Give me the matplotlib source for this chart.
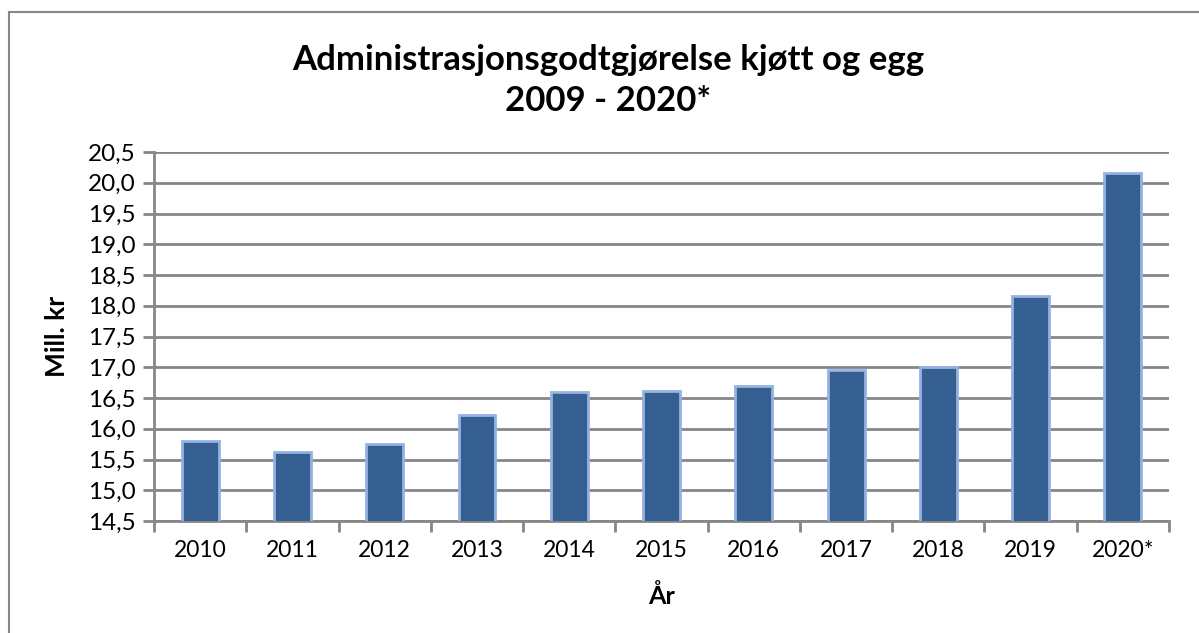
import matplotlib
matplotlib.use("Agg")
import matplotlib.pyplot as plt
from matplotlib.patches import Rectangle
from matplotlib.ticker import MultipleLocator, FuncFormatter

years = ["2010", "2011", "2012", "2013", "2014", "2015",
         "2016", "2017", "2018", "2019", "2020*"]
mill_kr = [15.80, 15.63, 15.76, 16.22, 16.59, 16.61,
           16.69, 16.95, 17.00, 18.16, 20.16]

BAR_COLOR = "#365f91"
EDGE_COLOR = "#95b3e0"
GRID_COLOR = "#868686"

plt.rcParams["font.family"] = ["Lato", "DejaVu Sans"]

fig = plt.figure(figsize=(11.99, 6.33), dpi=100)
ax = fig.add_axes([154 / 1199, 1 - 521 / 633, (1169 - 154) / 1199, (521 - 152) / 633])

# chart-area border (Excel style), only left and top visible in the crop
fig.patches.append(Rectangle((9 / 1199, -0.1), 1.2, 1 - 12 / 633 + 0.1,
                             transform=fig.transFigure, fill=False,
                             edgecolor="#878787", linewidth=1.5))

x = range(len(years))
ax.bar(x, mill_kr, width=0.4, color=BAR_COLOR, edgecolor=EDGE_COLOR,
       linewidth=2, zorder=3)

ax.set_ylim(14.5, 20.5)
ax.set_xlim(-0.5, len(years) - 0.5)
ax.yaxis.set_major_locator(MultipleLocator(0.5))
ax.yaxis.set_major_formatter(FuncFormatter(lambda v, p: f"{v:.1f}".replace(".", ",")))
ax.grid(axis="y", color=GRID_COLOR, linewidth=2, zorder=0)

ax.set_xticks(list(x), labels=years)
ax.set_xticks([i + 0.5 for i in range(-1, len(years))], minor=True)
ax.tick_params(axis="x", which="major", length=0, pad=14, labelsize=16.5)
ax.tick_params(axis="x", which="minor", length=8, width=2, color=GRID_COLOR)
ax.tick_params(axis="y", length=8, width=2, color=GRID_COLOR, labelsize=17.5, pad=5)

for side in ["top", "right"]:
    ax.spines[side].set_visible(False)
for side in ["left", "bottom"]:
    ax.spines[side].set_color(GRID_COLOR)
    ax.spines[side].set_linewidth(2)

ax.set_ylabel("Mill. kr", fontsize=19, fontweight="bold", labelpad=14)
ax.set_xlabel("År", fontsize=18, fontweight="bold", labelpad=16)

fig.text(0.507, 1 - 60 / 633, "Administrasjonsgodtgjørelse kjøtt og egg",
         ha="center", va="center", fontsize=25, fontweight="bold")
fig.text(0.507, 1 - 101 / 633, "2009 - 2020*",
         ha="center", va="center", fontsize=25, fontweight="bold")

fig.savefig("out.png", dpi=100)
